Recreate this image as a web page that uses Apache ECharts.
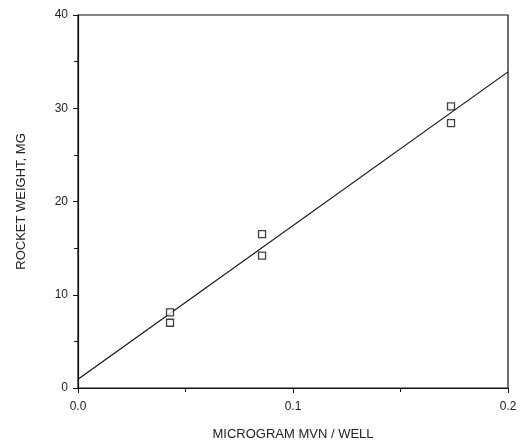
<!DOCTYPE html>
<html>
<head>
<meta charset="utf-8">
<script src="https://cdn.jsdelivr.net/npm/echarts@6/dist/echarts.min.js"></script>
<style>html,body{margin:0;padding:0;background:#fff;}#c{width:520px;height:441px;}</style>
</head>
<body>
<div id="c"></div>
<script>
var xValues = [0.0428, 0.0428, 0.0856, 0.0856, 0.1735, 0.1735];
var yValues = [8.1, 7.0, 16.5, 14.2, 30.2, 28.4];
var fitX = [0, 0.2];
var fitY = [0.93, 33.9];
var xTicks = [0, 0.1, 0.2];
var yTicks = [0, 10, 20, 30, 40];

var pts = xValues.map(function (x, i) { return [x, yValues[i]]; });
var fit = fitX.map(function (x, i) { return [x, fitY[i]]; });

var chart = echarts.init(document.getElementById('c'));
var font = 'Liberation Sans, Arial, sans-serif';
chart.setOption({
  animation: false,
  backgroundColor: '#fff',
  grid: { left: 78, right: 12, top: 15, bottom: 53, show: true, borderColor: '#111', borderWidth: 1.2,
          containLabel: false, outerBoundsMode: 'none' },
  xAxis: {
    type: 'value', min: xTicks[0], max: xTicks[xTicks.length - 1], interval: 0.1,
    name: 'MICROGRAM MVN / WELL', nameLocation: 'middle', nameGap: 40,
    nameTextStyle: { fontFamily: font, fontSize: 13, color: '#222' },
    axisLine: { lineStyle: { color: '#111', width: 1.2 } },
    axisTick: { show: true, inside: false, length: 5, lineStyle: { color: '#111' } },
    minorTick: { show: true, splitNumber: 2, length: 4, lineStyle: { color: '#111' } },
    splitLine: { show: false },
    axisLabel: { fontFamily: font, fontSize: 12, color: '#222', margin: 13, formatter: function (v) { return v.toFixed(1); } }
  },
  yAxis: {
    type: 'value', min: yTicks[0], max: yTicks[yTicks.length - 1], interval: 10,
    name: 'ROCKET WEIGHT, MG', nameLocation: 'middle', nameGap: 50,
    nameTextStyle: { fontFamily: font, fontSize: 13, color: '#222' },
    axisLine: { show: true, lineStyle: { color: '#111', width: 1.2 } },
    axisTick: { show: true, inside: false, length: 5, lineStyle: { color: '#111' } },
    minorTick: { show: true, splitNumber: 2, length: 4, lineStyle: { color: '#111' } },
    splitLine: { show: false },
    axisLabel: { fontFamily: font, fontSize: 12, color: '#222', margin: 10 }
  },
  series: [
    {
      type: 'line', data: fit, symbol: 'none',
      lineStyle: { color: '#111', width: 1.2 }, z: 2
    },
    {
      type: 'scatter', data: pts, symbol: 'rect', symbolSize: 7,
      itemStyle: { color: '#fff', borderColor: '#111', borderWidth: 1.3 }, z: 3
    }
  ]
});
</script>
</body>
</html>
